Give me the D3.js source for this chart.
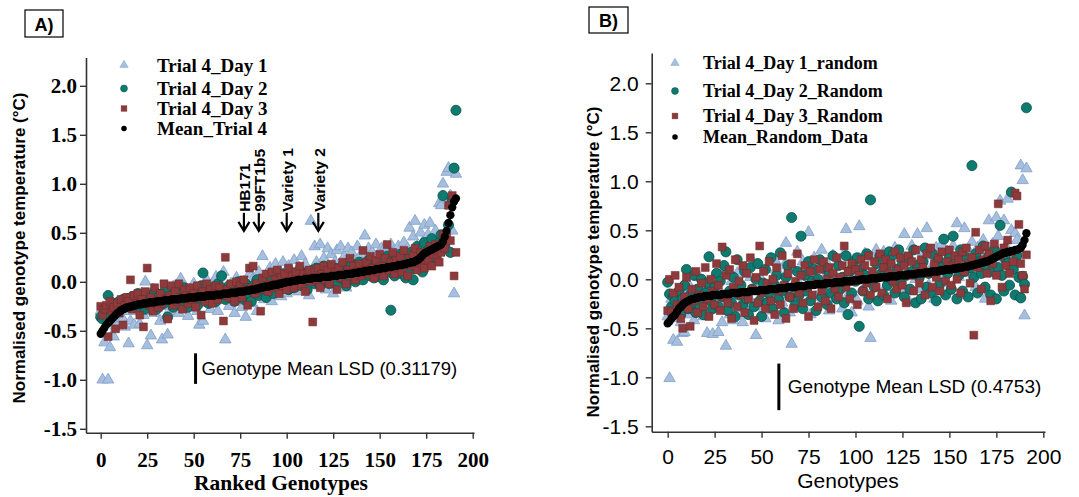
<!DOCTYPE html>
<html>
<head>
<meta charset="utf-8">
<script src="https://cdn.jsdelivr.net/npm/d3@7"></script>
<style>
  body { margin: 0; background: #fff; }
  text { fill: #000; }
</style>
</head>
<body>
<svg id="chart" width="1079" height="497"></svg>
<script>
// ---- Values are stored in hundredths of a degree C (index = genotype rank) ----

// Panel A: ranked genotypes, trial 4
const meanTrial4 = [
  -53,-50,-47,-44,-42,-40,-38,-36,-34,-32,-31,-29,-28,-27,-26,
  -26,-25,-25,-24,-24,-23,-23,-23,-22,-22,-22,-21,-21,-21,-21,-20,
  -20,-20,-20,-19,-19,-19,-19,-18,-18,-18,-18,-18,-17,-17,-17,-17,-16,-16,-16,-16,
  -16,-15,-15,-15,-15,-15,-14,-14,-14,-14,-14,-13,-13,-13,-13,-12,-12,-12,-12,-11,-11,-11,-11,-10,-10,
  -10,-10,-9,-9,-9,-8,-8,-8,-7,-7,-6,-6,-5,-5,-5,-4,-4,-3,-3,-3,-2,-2,-1,-1,0,
  0,0,1,1,1,2,2,2,2,3,3,3,3,4,4,4,4,4,5,5,5,5,5,6,6,
  6,6,7,7,7,7,8,8,8,8,9,9,9,10,10,10,11,11,11,12,12,12,13,13,13,
  14,14,14,15,15,15,16,16,16,17,17,17,18,18,19,19,20,20,21,22,
  23,25,27,29,30,31,32,33,34,35,36,37,38,41,46,52,60,68,76,82,85
];
const trial4Day1 = [
  -30,-100,-62,-38,-100,-67,-55,-56,-45,-28,-42,-24,-38,-46,-30,-63,
  -40,-22,-44,-18,-30,-43,-12,-34,0,-65,-28,-55,-8,-32,-20,-14,
  -40,-59,-25,-36,-54,-10,-30,-5,-22,-15,-32,3,-26,-12,-20,-35,
  -8,-24,-2,-18,-30,-44,-10,-40,-22,2,-16,-28,-6,-20,5,-30,
  -12,-4,10,-59,-18,-25,-2,-14,-32,4,-20,-8,-26,0,-36,-12,
  8,-22,3,-15,-30,10,-4,26,-18,6,-10,14,-20,2,18,-8,
  12,-15,20,4,-12,16,8,-6,22,10,-10,14,26,-4,18,8,
  -14,62,12,36,20,-2,38,14,24,-8,34,10,28,-12,20,32,
  4,36,16,26,-6,34,12,30,22,2,36,18,28,6,47,20,
  34,10,30,24,38,4,26,34,16,36,8,28,38,12,32,24,
  36,18,30,40,14,34,55,28,46,62,36,26,50,40,58,34,
  48,60,30,42,52,38,80,78,100,85,112,116,88,52,-12,110
];
const trial4Day2 = [
  -36,-38,-30,-28,-14,-34,-26,-30,-22,-28,-20,-24,-18,-26,-17,-22,
  -20,-15,-24,-18,-12,-26,-20,-16,-28,-14,-22,-18,-26,-10,-28,-16,
  -24,-12,-22,-8,-36,-18,-14,-26,-10,-20,-16,-24,-12,-6,-18,-26,
  -14,-8,-20,-12,-24,-16,-4,9,-18,-10,-22,-14,-6,-12,-20,-2,
  -16,6,-8,-18,-12,-4,-16,-6,-20,-10,0,-14,-6,-18,-2,-12,
  -8,-20,-4,-10,2,-14,-6,0,-10,-16,4,-8,2,-12,-4,6,
  -6,0,8,-4,2,-8,10,4,-6,6,0,12,-4,8,2,-8,
  10,4,12,-2,14,6,-4,10,16,2,8,-2,12,6,14,0,
  10,4,16,8,-4,12,6,18,10,0,14,20,8,2,16,10,
  22,6,14,4,18,12,8,22,2,16,26,10,-29,20,6,24,
  14,28,8,18,4,24,12,30,2,20,36,16,26,10,40,22,
  32,18,44,26,36,30,40,48,88,36,42,58,30,84,116,175
];
const trial4Day3 = [
  -25,-34,-28,-24,-56,-20,-30,-26,-48,-22,-32,-18,-44,-24,-16,-20,
  2,-28,-14,-22,-12,-34,-18,-46,-10,14,-24,-16,-30,-6,-20,-26,
  -12,-22,-2,-18,-38,-14,-4,-24,-10,-20,-2,-16,-28,-8,-14,-22,
  -6,-18,-12,-26,-4,-16,-34,-10,-20,-2,-14,-8,-22,-12,-4,-18,
  -6,-14,-40,25,-8,-16,-2,-12,-20,0,-10,-4,-16,2,-8,-24,
  14,-6,16,-12,-2,-8,-30,4,-6,8,-10,-2,10,-6,2,12,
  -12,4,-4,8,-8,14,0,6,-6,10,2,16,-4,8,-10,4,
  12,0,-41,10,2,14,-6,8,16,2,12,-2,18,6,10,-8,
  14,4,20,8,-2,12,24,6,16,2,10,18,6,32,12,20,
  8,26,14,4,22,10,28,16,6,24,38,12,20,30,8,22,
  14,26,10,32,18,6,24,16,28,34,12,20,30,18,14,26,
  22,36,16,28,38,24,20,30,48,34,46,78,42,88,6,30
];

// Panel B: randomised data
const meanRandom = [
  -45,-43,-40,-38,-36,-33,-30,-28,-26,-24,
  -23,-22,-21,-20,-20,-19,-19,-18,-18,-18,
  -17,-17,-17,-17,-16,-16,-16,-16,-16,-15,-15,-15,-15,-15,-14,-14,-14,-14,-14,-13,
  -13,-13,-13,-13,-12,-12,-12,-12,-12,-11,-11,-11,-11,-11,-10,-10,-10,-10,-10,-9,
  -9,-9,-9,-9,-8,-8,-8,-8,-8,-7,-7,-7,-7,-7,-6,-6,-6,-6,-6,-5,
  -5,-5,-5,-5,-4,-4,-4,-4,-4,-3,-3,-3,-3,-3,-2,-2,-2,-2,-2,-1,
  -1,-1,-1,0,0,0,0,0,1,1,1,1,1,2,2,2,2,2,3,3,
  3,3,3,4,4,4,4,4,5,5,5,5,5,6,6,6,6,7,7,7,
  7,8,8,8,8,9,9,9,10,10,10,10,11,11,11,12,12,12,13,13,
  13,14,14,15,15,16,16,17,17,18,18,19,20,21,22,23,24,25,26,27,
  27,28,28,29,29,30,30,31,32,35,40,47
];
const randomDay1 = [
  -38,-101,-20,-62,-40,-64,-28,-44,-55,-54,-16,-36,-8,-30,-42,-12,
  -34,2,-24,-38,-6,-55,-18,-30,-56,4,-26,-54,-14,-44,8,-68,
  -22,-36,-2,-42,-16,6,-30,-10,-44,12,-20,-34,2,-24,16,-57,
  -12,-38,0,-28,-40,10,-18,-6,-32,20,-14,-42,4,-24,14,37,
  -8,-34,-66,10,-20,28,-4,-30,18,-12,6,48,-36,-2,22,-18,
  12,-26,30,0,-14,16,-32,8,24,-20,2,18,-8,-30,26,51,
  -16,10,-34,20,4,-22,54,14,-10,26,0,-28,-60,22,-4,30,
  8,-18,16,28,-8,2,22,-22,14,32,-2,10,26,-14,46,6,
  20,-24,34,12,0,46,18,-10,28,8,52,-6,24,14,-20,32,
  4,20,36,-4,16,28,-12,10,34,22,57,2,26,-16,52,14,
  30,6,38,20,-8,32,12,24,40,-20,18,60,28,36,10,63,
  44,80,22,60,34,82,14,50,26,47,40,30,116,101,-37,113
];
const randomDay2 = [
  -3,-15,-28,-18,-22,-32,-12,-36,-20,-6,10,-30,-16,-24,4,-34,
  -10,-26,0,-36,-14,-4,23,-22,-30,-8,6,-28,-2,-18,14,28,
  -32,-12,-24,2,-38,20,-16,-6,-26,8,-20,-36,12,-10,-28,0,
  16,-22,-38,-4,10,-24,-14,22,-30,-6,4,-20,27,-12,-34,2,
  14,-18,63,-8,-26,8,-16,44,-30,4,-12,18,-22,-2,10,-32,
  0,20,-18,-6,12,-26,6,-14,24,-4,-20,14,-10,2,-24,24,
  -36,8,-14,18,-2,22,-48,10,-12,4,26,-20,81,2,-8,16,
  -22,24,6,-16,12,-6,28,0,25,-14,10,30,-4,16,-18,4,
  22,-10,8,30,-24,14,2,-20,18,32,-8,6,-14,26,10,-22,
  20,-4,12,41,-16,6,24,-10,44,16,-20,4,30,-12,8,22,
  -18,12,116,2,26,-14,18,6,34,-8,14,24,-16,8,30,-20,
  12,55,4,-12,20,16,-6,89,10,-16,24,2,-19,3,-5,175
];
const randomDay3 = [
  -32,0,-33,-14,4,-26,-8,-40,-50,-18,2,-30,-48,-10,-22,8,
  -34,-16,-4,-28,12,-20,-38,0,-12,-26,16,-6,-32,33,-18,4,
  -24,10,-40,-8,20,-28,-2,-16,14,-34,6,-20,22,-10,-42,2,
  -24,34,-14,8,-30,-4,18,-22,0,-36,12,-12,-26,24,-6,-40,
  6,-18,16,-30,-2,26,-14,4,-24,14,-8,-38,8,-16,20,-4,
  -28,10,-12,18,-22,0,12,-30,6,-10,22,-18,2,14,34,-8,
  8,-20,16,-2,10,-26,4,20,-12,14,-4,24,-16,8,18,-8,
  2,26,-14,12,20,-20,6,16,-2,28,-10,10,22,-6,14,-24,
  24,4,18,-12,30,8,-4,20,12,-16,26,6,32,-8,16,2,
  22,-12,28,10,-2,18,30,-6,14,24,0,20,-14,28,8,32,
  16,-4,22,-57,48,12,30,-10,20,34,6,26,-22,16,36,4,
  77,24,-8,32,14,40,6,28,18,88,85,56,16,4,-10,25
];

// Axis ticks
const xTicks = [0, 25, 50, 75, 100, 125, 150, 175, 200];
const yTicks = [-1.5, -1.0, -0.5, 0.0, 0.5, 1.0, 1.5, 2.0];
const yTickLabels = ["-1.5", "-1.0", "-0.5", "0.0", "0.5", "1.0", "1.5", "2.0"];

// Highlighted genotypes in panel A
const markedNames = ["HB171", "99FT1b5", "Variety 1", "Variety 2"];
const markedRanks = [77, 85, 100, 117];

// Least significant differences
const lsdA = 0.31179;
const lsdB = 0.4753;

const legendA = ["Trial 4_Day 1", "Trial 4_Day 2", "Trial 4_Day 3", "Mean_Trial 4"];
const legendB = ["Trial 4_Day 1_random", "Trial 4_Day 2_Random", "Trial 4_Day 3_Random", "Mean_Random_Data"];

const SERIF = "'Liberation Serif', 'Times New Roman', serif";
const SANS = "'Liberation Sans', Arial, sans-serif";

const styles = [
  { shape: d3.symbolTriangle, size: 56, fill: "#a7bfdf", stroke: "#7f9ec6", sw: 0.8, lsize: 30 },
  { shape: d3.symbolCircle,   size: 80, fill: "#0f7a70", stroke: "#0a4f49", sw: 0.8, lsize: 38 },
  { shape: d3.symbolSquare,   size: 62, fill: "#8c3a3b", stroke: "#6e2a2b", sw: 0.5, lsize: 34 },
  { shape: d3.symbolCircle,   size: 54, fill: "#000",    stroke: "none",    sw: 0,   lsize: 24 }
];

const svg = d3.select("#chart");

function drawPanel(p) {
  const x = d3.scaleLinear().domain(p.xDomain).range(p.xRange);
  const y = d3.scaleLinear().domain(p.yDomain).range(p.yRange);
  const g = svg.append("g");

  // panel tag
  g.append("rect").attr("x", p.tag.x).attr("y", p.tag.y)
    .attr("width", p.tag.w).attr("height", p.tag.h)
    .attr("fill", "#fff").attr("stroke", "#000").attr("stroke-width", 1.2);
  g.append("text").attr("x", p.tag.x + p.tag.w / 2).attr("y", p.tag.y + p.tag.h / 2 + 1)
    .attr("text-anchor", "middle").attr("dominant-baseline", "central")
    .style("font", `bold 18px ${SANS}`).text(p.tag.label);

  // series (drawn from the arrays, each value in hundredths)
  p.series.forEach((vals, si) => {
    const st = styles[si];
    const sym = d3.symbol().type(st.shape).size(st.size);
    g.append("g").selectAll("path").data(vals).join("path")
      .attr("transform", (v, i) => `translate(${x(i)},${y(v / 100)})`)
      .attr("d", sym)
      .attr("fill", st.fill)
      .attr("stroke", st.stroke)
      .attr("stroke-width", st.sw);
  });

  // axes
  const yAxis = d3.axisLeft(y).tickValues(yTicks)
    .tickFormat((d, i) => yTickLabels[i])
    .tickSize(6).tickSizeOuter(0).tickPadding(p.yPad);
  const ya = g.append("g").attr("transform", `translate(${p.xRange[0]},0)`).call(yAxis);
  const xAxis = d3.axisBottom(x).tickValues(xTicks)
    .tickFormat(d3.format("d"))
    .tickSize(6).tickSizeOuter(0).tickPadding(p.xPad);
  const xa = g.append("g").attr("transform", `translate(0,${p.yRange[0]})`).call(xAxis);
  [ya, xa].forEach(a => {
    a.select(".domain").attr("stroke", "#333").attr("stroke-width", 1.6);
    a.selectAll(".tick line").attr("stroke", "#333").attr("stroke-width", 1.4);
    a.selectAll(".tick text").attr("fill", "#000").style("font", p.tickFont);
  });

  // axis titles
  g.append("text")
    .attr("transform", `translate(${p.yTitle.x},${p.yTitle.y}) rotate(-90)`)
    .attr("text-anchor", "middle").attr("dominant-baseline", "central")
    .style("font", `bold 17px ${SANS}`)
    .text("Normalised genotype temperature (°C)");
  g.append("text").attr("x", p.xTitle.x).attr("y", p.xTitle.y)
    .attr("text-anchor", "middle").style("font", p.xTitle.font).text(p.xTitle.text);

  // legend
  p.legend.labels.forEach((lab, i) => {
    const st = styles[i];
    const ly = p.legend.rows[i];
    g.append("path")
      .attr("transform", `translate(${p.legend.mx},${ly})`)
      .attr("d", d3.symbol().type(st.shape).size(st.lsize))
      .attr("fill", st.fill).attr("stroke", st.stroke).attr("stroke-width", st.sw * 0.6);
    g.append("text").attr("x", p.legend.tx).attr("y", ly)
      .attr("dominant-baseline", "central")
      .style("font", `bold ${p.legend.size}px ${SERIF}`).text(lab);
  });

  // LSD bar
  const bx = x(p.lsd.rank);
  g.append("line").attr("x1", bx).attr("x2", bx)
    .attr("y1", y(p.lsd.top)).attr("y2", y(p.lsd.top - p.lsd.value))
    .attr("stroke", "#000").attr("stroke-width", 3);
  g.append("text").attr("x", bx + p.lsd.gap).attr("y", y(p.lsd.top - p.lsd.value / 2))
    .attr("dominant-baseline", "central")
    .style("font", `${p.lsd.size}px ${SANS}`)
    .text(`Genotype Mean LSD (${p.lsd.value})`);

  return { x, y, g };
}

// Panel A
const A = drawPanel({
  xDomain: [-7.9, 200.7], xRange: [86, 474],
  yDomain: [-1.54, 2.29], yRange: [432.7, 57.4],
  yPad: 3, xPad: 13,
  tickFont: `bold 21px ${SERIF}`,
  tag: { x: 25, y: 10, w: 38, h: 27, label: "A)" },
  series: [trial4Day1, trial4Day2, trial4Day3, meanTrial4],
  yTitle: { x: 19, y: 248 },
  xTitle: { x: 281, y: 490, text: "Ranked Genotypes", font: `bold 21.5px ${SERIF}` },
  legend: { labels: legendA, mx: 124, tx: 157, rows: [65, 88.5, 108.5, 128.5], size: 19 },
  lsd: { rank: 51, top: -0.73, value: lsdA, gap: 6, size: 18.5 }
});

// arrows marking named genotypes in panel A
const tipY = A.y(0.52);
markedNames.forEach((name, i) => {
  const ax = A.x(markedRanks[i]);
  const top = tipY - 18;
  A.g.append("line").attr("x1", ax).attr("x2", ax).attr("y1", top).attr("y2", tipY - 1)
    .attr("stroke", "#000").attr("stroke-width", 2.2);
  A.g.append("path")
    .attr("d", `M${ax - 5.5},${tipY - 9} L${ax},${tipY} L${ax + 5.5},${tipY - 9}`)
    .attr("fill", "none").attr("stroke", "#000").attr("stroke-width", 2.2);
  A.g.append("text")
    .attr("transform", `translate(${ax + 1},${top - 1}) rotate(-90)`)
    .attr("dominant-baseline", "central")
    .style("font", `bold 15.5px ${SANS}`)
    .text(name);
});

// Panel B
drawPanel({
  xDomain: [-8.5, 200.9], xRange: [651.7, 1045],
  yDomain: [-1.555, 2.309], yRange: [431.7, 53],
  yPad: 7, xPad: 11,
  tickFont: `21px ${SANS}`,
  tag: { x: 589, y: 7, w: 39, h: 26, label: "B)" },
  series: [randomDay1, randomDay2, randomDay3, meanRandom],
  yTitle: { x: 593, y: 262 },
  xTitle: { x: 848, y: 488, text: "Genotypes", font: `21px ${SANS}` },
  legend: { labels: legendB, mx: 675, tx: 703, rows: [63, 91, 116, 137], size: 18 },
  lsd: { rank: 59.2, top: -0.86, value: lsdB, gap: 9, size: 19 }
});
</script>
</body>
</html>
